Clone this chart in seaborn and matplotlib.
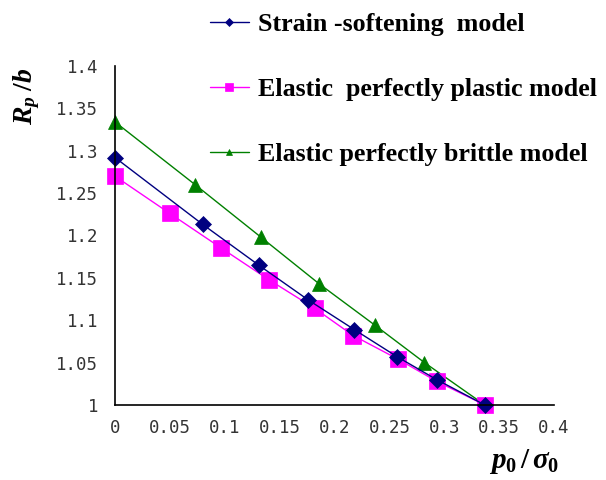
import matplotlib
matplotlib.use("Agg")
import matplotlib.pyplot as plt
from matplotlib.font_manager import FontProperties
import pandas as pd
import seaborn as sns

# Relative plastic-zone radius R_p/b against normalised support pressure p0/sigma0
softening_x = [0.0, 0.080, 0.131, 0.176, 0.218, 0.257, 0.293, 0.337]
softening_y = [1.292, 1.213, 1.165, 1.124, 1.089, 1.057, 1.030, 1.000]

plastic_x = [0.0, 0.050, 0.097, 0.140, 0.182, 0.217, 0.258, 0.293, 0.337]
plastic_y = [1.270, 1.226, 1.185, 1.148, 1.114, 1.082, 1.054, 1.028, 1.000]

brittle_x = [0.0, 0.073, 0.133, 0.186, 0.237, 0.282, 0.337]
brittle_y = [1.334, 1.260, 1.198, 1.143, 1.094, 1.050, 1.000]

series_names = [
    "Strain -softening  model",
    "Elastic  perfectly plastic model",
    "Elastic perfectly brittle model",
]

x_ticks = [0.0, 0.05, 0.10, 0.15, 0.20, 0.25, 0.30, 0.35, 0.40]
x_tick_labels = ["0", "0.05", "0.1", "0.15", "0.2", "0.25", "0.3", "0.35", "0.4"]
y_ticks = [1.00, 1.05, 1.10, 1.15, 1.20, 1.25, 1.30, 1.35, 1.40]
y_tick_labels = ["1", "1.05", "1.1", "1.15", "1.2", "1.25", "1.3", "1.35", "1.4"]

sns.set_style("white")
plt.rcParams.update({
    "font.family": ["DejaVu Sans"],
    "text.color": "black",
    "mathtext.fontset": "custom",
    "mathtext.it": "Liberation Serif:italic:bold",
    "mathtext.rm": "Liberation Serif:bold",
    "mathtext.bf": "Liberation Serif:bold",
})

W, H = 606, 480
fig = plt.figure(figsize=(W / 100, H / 100), dpi=100)
ax = fig.add_axes([115 / W, 1 - 405 / H, (554 - 115) / W, (405 - 66) / H])

# drawn back to front: brittle, plastic, softening
series = [
    (brittle_x, brittle_y, series_names[2], "#008000", "^", 9.5),
    (plastic_x, plastic_y, series_names[1], "#FF00FF", "s", 11),
    (softening_x, softening_y, series_names[0], "#000080", "D", 8.5),
]
for xs, ys, name, color, marker, ms in series:
    df = pd.DataFrame({"x": xs, "y": ys})
    sns.lineplot(data=df, x="x", y="y", ax=ax, color=color, marker=marker,
                 markersize=ms, markeredgecolor=color, markeredgewidth=0.5,
                 linewidth=1.0, label=name, sort=False, estimator=None,
                 clip_on=False)

ax.set_xlim(0, 0.4)
ax.set_ylim(1.0, 1.4)
ax.set_xticks(x_ticks)
ax.set_yticks(y_ticks)
tick_font = dict(fontfamily="DejaVu Sans Mono", fontsize=12.5, color="#333333")
ax.set_xticklabels(x_tick_labels, **tick_font)
ax.set_yticklabels(y_tick_labels, **tick_font)
ax.tick_params(axis="x", direction="in", length=5, width=1, pad=10, color="black")
ax.tick_params(axis="y", direction="in", length=5, width=1, pad=12, color="black")
ax.set_xlabel("")
ax.set_ylabel("")
for side in ("top", "right"):
    ax.spines[side].set_visible(False)
for side in ("left", "bottom"):
    ax.spines[side].set_color("black")
    ax.spines[side].set_linewidth(1.2)

handles, labels = ax.get_legend_handles_labels()
order = [labels.index(n) for n in series_names]
ax.get_legend().remove()
leg = fig.legend([handles[i] for i in order], [labels[i] for i in order],
                 loc="upper left", bbox_to_anchor=(210 / W, 1 - 13 / H),
                 bbox_transform=fig.transFigure, frameon=False,
                 prop=FontProperties(family="Liberation Serif", weight="bold", size=18.7),
                 handlelength=1.5, handletextpad=0.33, labelspacing=1.6,
                 markerscale=0.5, numpoints=1, borderpad=0, borderaxespad=0)
for t in leg.get_texts():
    t.set_color("black")

fig.text(27 / W, 1 - 96 / H, r"$R_p\;/b$", rotation=90, ha="center", va="center",
         fontsize=20, color="black")
fig.text(524 / W, 1 - 462 / H, r"$p_0\,/\,\sigma_0$", ha="center", va="center",
         fontsize=21, color="black")

fig.savefig("out.png", dpi=100)
